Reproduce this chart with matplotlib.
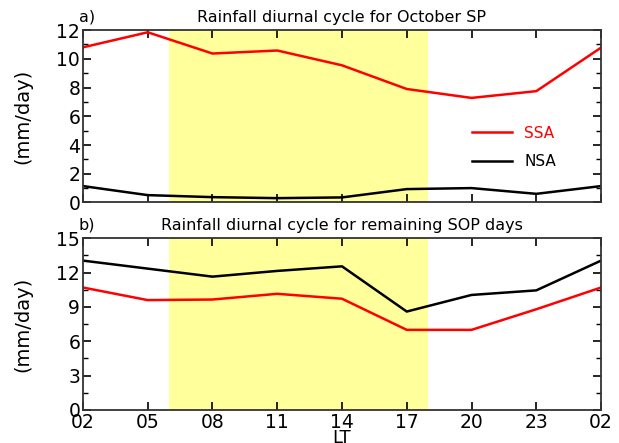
import matplotlib
matplotlib.use("Agg")
import matplotlib.pyplot as plt
import numpy as np

hours = [0, 3, 6, 9, 12, 15, 18, 21, 24]
tick_labels = ["02", "05", "08", "11", "14", "17", "20", "23", "02"]

ssa_oct = [10.8, 11.85, 10.37, 10.58, 9.55, 7.9, 7.28, 7.75, 10.78]
nsa_oct = [1.14, 0.51, 0.37, 0.3, 0.35, 0.93, 1.0, 0.6, 1.14]

ssa_rem = [10.7, 9.6, 9.65, 10.15, 9.72, 7.0, 7.0, 8.8, 10.7]
nsa_rem = [13.05, 12.35, 11.65, 12.15, 12.55, 8.6, 10.05, 10.45, 13.05]

day_start, day_end = 4, 16  # 06 LT to 18 LT

plt.rcParams['font.family'] = ['DejaVu Sans']
fig = plt.figure(figsize=(6.19, 4.43), dpi=100)
left, width = 0.134, 0.837
ax1 = fig.add_axes([left, 0.543, width, 0.389])
ax2 = fig.add_axes([left, 0.0745, width, 0.3876])

yellow = '#ffff9c'

def style(ax, ymax, major, minor, show_x):
    ax.axvspan(day_start, day_end, color=yellow, lw=0, zorder=0)
    ax.set_xlim(0, 24)
    ax.set_ylim(0, ymax)
    ax.set_xticks(hours)
    ax.set_yticks(np.arange(0, ymax + 0.01, major))
    ax.set_yticks(np.arange(0, ymax + 0.01, minor), minor=True)
    ax.tick_params(axis='both', which='major', direction='in', length=6, width=1.2,
                   top=True, right=True, labelsize=13.5, pad=2)
    ax.tick_params(axis='y', which='minor', direction='in', length=3.5, width=1.0,
                   right=True, left=True)
    if show_x:
        ax.set_xticklabels(tick_labels)
    else:
        ax.set_xticklabels([])
    for s in ax.spines.values():
        s.set_linewidth(1.3)
        s.set_color('#333333')
    ax.set_ylabel('(mm/day)', fontsize=14, labelpad=17)

style(ax1, 12, 2, 1, False)
style(ax2, 15, 3, 1.5, True)

l1, = ax1.plot(hours, ssa_oct, color='#ff0000', lw=1.8, label='SSA')
l2, = ax1.plot(hours, nsa_oct, color='black', lw=1.8, label='NSA')
ax2.plot(hours, ssa_rem, color='#ff0000', lw=1.8)
ax2.plot(hours, nsa_rem, color='black', lw=1.8)

leg = ax1.legend(loc='upper left', bbox_to_anchor=(0.725, 0.525), frameon=False,
                 fontsize=11, handlelength=2.6, labelspacing=0.9, labelcolor='linecolor',
                 handletextpad=0.8)

ax1.set_title('Rainfall diurnal cycle for October SP', fontsize=11.5, pad=6)
ax2.set_title('Rainfall diurnal cycle for remaining SOP days', fontsize=11.5, pad=6)
ax1.text(-0.008, 1.035, 'a)', transform=ax1.transAxes, fontsize=11.5, ha='left', va='bottom')
ax2.text(-0.008, 1.035, 'b)', transform=ax2.transAxes, fontsize=11.5, ha='left', va='bottom')
ax2.set_xlabel('LT', fontsize=13, labelpad=-2)

fig.savefig('out.png', dpi=100)
